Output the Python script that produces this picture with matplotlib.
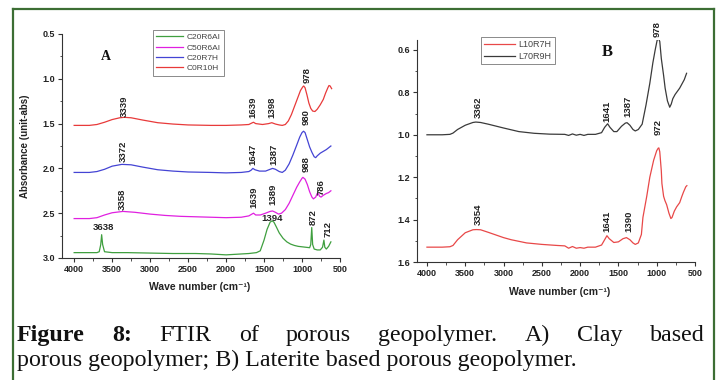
import matplotlib
matplotlib.use("Agg")
import matplotlib.pyplot as plt
from matplotlib.lines import Line2D

plt.rcParams['font.family'] = ['Liberation Sans', 'DejaVu Sans']

# ---------------- data: panel A (clay based) ----------------
a_green_wn = [4000, 3800, 3700, 3670, 3650, 3638, 3625, 3600, 3500, 3300, 3000, 2700, 2400, 2200,
              2100, 2000, 1900, 1800, 1700, 1600, 1550, 1500, 1460, 1420, 1394, 1370, 1340, 1300,
              1250, 1200, 1150, 1100, 1050, 1000, 950, 900, 885, 872, 860, 840, 800, 760, 730, 712,
              700, 680, 650, 620]
a_green_v = [2.94, 2.94, 2.94, 2.93, 2.85, 2.74, 2.85, 2.93, 2.94, 2.94, 2.945, 2.95, 2.95, 2.955,
             2.96, 2.965, 2.96, 2.955, 2.95, 2.94, 2.92, 2.80, 2.68, 2.60, 2.585, 2.60, 2.65, 2.72,
             2.78, 2.82, 2.845, 2.86, 2.87, 2.875, 2.88, 2.885, 2.85, 2.66, 2.85, 2.90, 2.91, 2.91,
             2.88, 2.80, 2.88, 2.90, 2.87, 2.82]

a_mag_wn = [4000, 3800, 3700, 3600, 3500, 3358, 3200, 3000, 2800, 2600, 2400, 2200, 2000, 1800,
            1700, 1660, 1639, 1610, 1550, 1480, 1420, 1389, 1350, 1310, 1270, 1220, 1170, 1120,
            1070, 1030, 1000, 988, 960, 930, 900, 870, 850, 820, 800, 786, 770, 750, 720, 680,
            650, 620]
a_mag_v = [2.56, 2.56, 2.55, 2.52, 2.495, 2.48, 2.49, 2.51, 2.525, 2.535, 2.54, 2.545, 2.55, 2.545,
           2.53, 2.51, 2.50, 2.52, 2.52, 2.50, 2.48, 2.475, 2.49, 2.51, 2.50, 2.46, 2.39, 2.30,
           2.21, 2.15, 2.11, 2.10, 2.12, 2.18, 2.26, 2.32, 2.34, 2.32, 2.28, 2.28, 2.31, 2.32,
           2.30, 2.28, 2.27, 2.25]

a_blue_wn = [4000, 3800, 3700, 3600, 3500, 3372, 3250, 3100, 2900, 2700, 2500, 2200, 2000, 1800,
             1700, 1670, 1647, 1620, 1560, 1480, 1420, 1387, 1350, 1300, 1260, 1220, 1170, 1120,
             1070, 1030, 1000, 980, 960, 930, 900, 870, 840, 820, 800, 760, 720, 680, 650, 620]
a_blue_v = [2.045, 2.045, 2.035, 2.01, 1.975, 1.955, 1.96, 1.985, 2.015, 2.03, 2.04, 2.045, 2.05,
            2.045, 2.035, 2.02, 2.00, 2.015, 2.03, 2.03, 2.01, 2.00, 2.01, 2.035, 2.045, 2.02,
            1.95, 1.85, 1.74, 1.65, 1.60, 1.585, 1.60, 1.68, 1.76, 1.82, 1.87, 1.88, 1.86, 1.83,
            1.81, 1.79, 1.77, 1.75]

a_red_wn = [4000, 3800, 3700, 3600, 3500, 3400, 3339, 3250, 3100, 2900, 2700, 2500, 2200, 2000,
            1800, 1700, 1665, 1639, 1610, 1520, 1440, 1398, 1350, 1300, 1260, 1220, 1180, 1140,
            1100, 1060, 1020, 990, 978, 960, 935, 910, 885, 860, 830, 800, 760, 720, 690, 660,
            645, 630, 610]
a_red_v = [1.52, 1.52, 1.51, 1.485, 1.455, 1.435, 1.43, 1.435, 1.46, 1.49, 1.505, 1.515, 1.52, 1.52,
           1.515, 1.51, 1.495, 1.485, 1.50, 1.51, 1.50, 1.49, 1.505, 1.515, 1.52, 1.51, 1.47, 1.40,
           1.31, 1.22, 1.13, 1.09, 1.08, 1.10, 1.18, 1.27, 1.33, 1.36, 1.365, 1.34, 1.29, 1.23,
           1.16, 1.10, 1.075, 1.08, 1.11]

a_names = ["C20R6AI", "C50R6AI", "C20R7H", "C0R10H"]

# ---------------- data: panel B (laterite based) ----------------
b_gray_wn = [4000, 3800, 3700, 3660, 3600, 3500, 3400, 3362, 3300, 3200, 3000, 2800, 2600, 2400,
             2200, 2150, 2100, 2050, 2000, 1950, 1900, 1800, 1720, 1680, 1641, 1610, 1560, 1520,
             1460, 1410, 1387, 1350, 1310, 1280, 1240, 1190, 1140, 1090, 1050, 1020, 995, 978,
             960, 940, 910, 890, 860, 830, 810, 790, 760, 720, 700, 670, 640, 610]
b_gray_v = [1.0, 1.0, 0.998, 0.992, 0.975, 0.955, 0.942, 0.94, 0.942, 0.95, 0.968, 0.985, 0.993,
            0.997, 0.998, 1.003, 0.996, 1.002, 0.998, 1.003, 0.998, 0.998, 0.99, 0.965, 0.948,
            0.965, 0.985, 0.985, 0.96, 0.945, 0.943, 0.955, 0.975, 0.982, 0.975, 0.95, 0.86,
            0.757, 0.66, 0.60, 0.555, 0.545, 0.56, 0.64, 0.72, 0.78, 0.84, 0.87, 0.855, 0.83,
            0.81, 0.79, 0.78, 0.76, 0.74, 0.71]

b_red_wn = [4000, 3800, 3700, 3660, 3600, 3500, 3400, 3354, 3300, 3200, 3000, 2900, 2700, 2500,
            2300, 2200, 2150, 2100, 2050, 2000, 1950, 1900, 1800, 1720, 1680, 1650, 1620, 1560,
            1500, 1440, 1395, 1350, 1310, 1280, 1240, 1200, 1180, 1130, 1090, 1040, 1000, 980,
            972, 960, 940, 932, 910, 893, 870, 840, 815, 800, 770, 740, 720, 700, 671, 650, 620, 606]
b_red_v = [1.53, 1.53, 1.528, 1.522, 1.495, 1.462, 1.448, 1.447, 1.448, 1.46, 1.485, 1.495, 1.51,
           1.517, 1.522, 1.524, 1.535, 1.527, 1.535, 1.532, 1.535, 1.53, 1.53, 1.52, 1.495, 1.476,
           1.49, 1.508, 1.505, 1.49, 1.485, 1.495, 1.51, 1.517, 1.51, 1.47, 1.39, 1.29, 1.20,
           1.12, 1.075, 1.063, 1.062, 1.08, 1.17, 1.23, 1.29, 1.31, 1.33, 1.37, 1.395, 1.39,
           1.36, 1.34, 1.33, 1.32, 1.29, 1.27, 1.245, 1.24]

b_names = ["L10R7H", "L70R9H"]

# tick labels
x_ticks = [4000, 3500, 3000, 2500, 2000, 1500, 1000, 500]
x_ticklabels = ["4000", "3500", "3000", "2500", "2000", "1500", "1000", "500"]
a_yticks = [0.5, 1.0, 1.5, 2.0, 2.5, 3.0]
a_yticklabels = ["0.5", "1.0", "1.5", "2.0", "2.5", "3.0"]
b_yticks = [0.6, 0.8, 1.0, 1.2, 1.4, 1.6]
b_yticklabels = ["0.6", "0.8", "1.0", "1.2", "1.4", "1.6"]

# peak annotations (text, wavenumber position, value position)
a_peak_txt = ["3339", "1639", "1398", "978", "3372", "1647", "1387", "980",
              "3358", "1639", "1389", "988", "786", "872", "712"]
a_peak_wn = [3342, 1645, 1395, 930, 3355, 1645, 1368, 947, 3368, 1632, 1382, 947, 750, 855, 658]
a_peak_v = [1.426, 1.44, 1.44, 1.047, 1.929, 1.96, 1.96, 1.516, 2.464, 2.44, 2.41, 2.04, 2.30, 2.63, 2.766]
a_hpeak_txt = ["3638", "1394"]
a_hpeak_wn = [3618, 1395]
a_hpeak_v = [2.665, 2.554]

b_peak_txt = ["3362", "1641", "1387", "978", "972", "3354", "1641", "1390"]
b_peak_wn = [3334, 1650, 1376, 997, 984, 3334, 1650, 1363]
b_peak_v = [0.921, 0.94, 0.916, 0.539, 1.0, 1.425, 1.458, 1.458]

# ---------------- figure ----------------
W, H = 716, 380
fig = plt.figure(figsize=(W / 100, H / 100), dpi=100)
fig.patch.set_facecolor('white')


def fx(px):
    return px / W


def fy(py):
    return 1 - py / H


axA = fig.add_axes([fx(62), fy(258), fx(340) - fx(62), fy(34) - fy(258)])
axB = fig.add_axes([fx(417), fy(262), fx(695) - fx(417), fy(40) - fy(262)])


def style(ax, yt, ytl, yminor):
    for s in ['top', 'right']:
        ax.spines[s].set_visible(False)
    for s in ['left', 'bottom']:
        ax.spines[s].set_linewidth(0.8)
        ax.spines[s].set_color('#333333')
    ax.set_xticks(x_ticks, labels=x_ticklabels, fontweight='bold')
    ax.set_xticks([t - 250 for t in x_ticks[:-1]], minor=True)
    ax.set_yticks(yt, labels=ytl, fontweight='bold')
    ax.set_yticks(yminor, minor=True)
    ax.tick_params(which='major', direction='out', length=3, width=0.8, color='#333333',
                   labelsize=6.5, labelcolor='#222222', pad=2)
    ax.tick_params(which='minor', direction='out', length=1.8, width=0.6, color='#333333')
    ax.set_facecolor('white')


cols_a = ['#3f9f3f', '#e020e0', '#4444d4', '#e83a3a']
la = []
for wn, v, c, n in zip([a_green_wn, a_mag_wn, a_blue_wn, a_red_wn],
                       [a_green_v, a_mag_v, a_blue_v, a_red_v], cols_a, a_names):
    ln, = axA.plot(wn, v, color=c, lw=0.9, label=n)
    la.append(ln)
axA.set_xlim(4160, 500)
axA.set_ylim(3.0, 0.5)
style(axA, a_yticks, a_yticklabels, [0.75, 1.25, 1.75, 2.25, 2.75])

lb_red, = axB.plot(b_red_wn, b_red_v, color='#e84848', lw=0.9, label=b_names[0])
lb_gray, = axB.plot(b_gray_wn, b_gray_v, color='#3a3a3a', lw=0.9, label=b_names[1])
axB.set_xlim(4130, 500)
axB.set_ylim(1.6, 0.553)
style(axB, b_yticks, b_yticklabels, [0.7, 0.9, 1.1, 1.3, 1.5])

# peak labels
for t, w, v in zip(a_peak_txt, a_peak_wn, a_peak_v):
    axA.text(w, v, t, rotation=90, ha='center', va='bottom', fontsize=6.8,
             fontweight='bold', color='#222222')
for t, w, v in zip(a_hpeak_txt, a_hpeak_wn, a_hpeak_v):
    axA.text(w, v, t, ha='center', va='center', fontsize=6.8, fontweight='bold', color='#222222')
for t, w, v in zip(b_peak_txt, b_peak_wn, b_peak_v):
    axB.text(w, v, t, rotation=90, ha='center', va='bottom', fontsize=6.8,
             fontweight='bold', color='#222222')

# legends
legA = axA.legend(la, a_names, loc='upper left', bbox_to_anchor=(fx(153), fy(30)),
                  bbox_transform=fig.transFigure, fontsize=6, frameon=True, fancybox=False,
                  edgecolor='#555555', handlelength=3.2, handletextpad=0.4, borderpad=0.4,
                  labelspacing=0.3, borderaxespad=0)
legA.get_frame().set_linewidth(0.6)
for t in legA.get_texts():
    t.set_color('#444444')
legB = axB.legend([lb_red, lb_gray], b_names, loc='upper left', bbox_to_anchor=(fx(481), fy(37)),
                  bbox_transform=fig.transFigure, fontsize=6.5, frameon=True, fancybox=False,
                  edgecolor='#555555', handlelength=3.4, handletextpad=0.4, borderpad=0.35,
                  labelspacing=0.35, borderaxespad=0)
legB.get_frame().set_linewidth(0.6)
for t in legB.get_texts():
    t.set_color('#444444')

# panel letters
fig.text(fx(106), fy(57), "A", family='Liberation Serif', fontweight='bold', fontsize=10,
         ha='center', va='center', color='#111111')
fig.text(fx(607), fy(52), "B", family='Liberation Serif', fontweight='bold', fontsize=12,
         ha='center', va='center', color='#111111')

# axis labels
fig.text(fx(25), fy(146), "Absorbance (unit-abs)", rotation=90, ha='center', va='center',
         fontsize=7, fontweight='bold', color='#222222')
fig.text(fx(200), fy(287), "Wave number (cm⁻¹)", ha='center', va='center',
         fontsize=7.5, fontweight='bold', color='#222222')
fig.text(fx(560), fy(292), "Wave number (cm⁻¹)", ha='center', va='center',
         fontsize=7.5, fontweight='bold', color='#222222')

# border
bc = '#3c6e34'
fig.add_artist(Line2D([fx(13), fx(13)], [fy(9), fy(382)], color=bc, lw=1.6))
fig.add_artist(Line2D([fx(13), fx(714)], [fy(9), fy(9)], color=bc, lw=1.6))
fig.add_artist(Line2D([fx(714), fx(714)], [fy(9), fy(382)], color=bc, lw=1.6))

# caption
renderer = fig.canvas.get_renderer()
serif = 'Liberation Serif'
line2 = "porous geopolymer; B) Laterite based porous geopolymer."
probe = fig.text(0, 0, line2, family=serif, fontsize=16)
w2 = probe.get_window_extent(renderer).width
probe.remove()
fs = 16 * (579 - 17) / w2

words1 = [("Figure", 'bold'), ("8:", 'bold'), ("FTIR", 'normal'), ("of", 'normal'),
          ("porous", 'normal'), ("geopolymer.", 'normal'), ("A)", 'normal'),
          ("Clay", 'normal'), ("based", 'normal')]
widths = []
for w, wt in words1:
    p = fig.text(0, 0, w, family=serif, fontsize=fs, fontweight=wt)
    widths.append(p.get_window_extent(renderer).width)
    p.remove()
gap = ((705 - 17) - sum(widths)) / (len(words1) - 1)
xpos = 17
for (w, wt), wd in zip(words1, widths):
    fig.text(fx(xpos), fy(341), w, family=serif, fontsize=fs, fontweight=wt,
             ha='left', va='baseline', color='#111111')
    xpos += wd + gap
fig.text(fx(17), fy(366), line2, family=serif, fontsize=fs, ha='left', va='baseline',
         color='#111111')

fig.savefig("out.png", dpi=100, facecolor='white')
